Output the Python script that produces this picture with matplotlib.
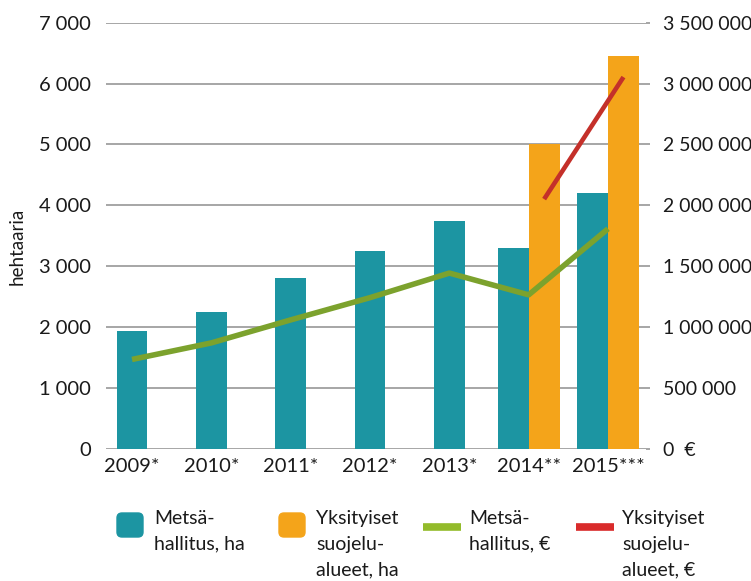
import numpy as np
import matplotlib
matplotlib.use("Agg")
import matplotlib.pyplot as plt
from matplotlib.patches import FancyBboxPatch
from matplotlib.lines import Line2D
from matplotlib.ticker import FuncFormatter, MultipleLocator

plt.rcParams['font.family'] = ['Lato', 'DejaVu Sans']

# data
years = ["2009*", "2010*", "2011*", "2012*", "2013*", "2014**", "2015***"]
metsahallitus_ha = [1930, 2245, 2805, 3250, 3745, 3300, 4200]
yksityiset_ha = [np.nan, np.nan, np.nan, np.nan, np.nan, 5010, 6450]
metsahallitus_eur = [732000, 868000, 1057000, 1240000, 1442000, 1263000, 1806000]
yksityiset_eur = [np.nan, np.nan, np.nan, np.nan, np.nan, 2050000, 3053000]

legend_labels = ["Metsä-\nhallitus, ha", "Yksityiset\nsuojelu-\nalueet, ha",
                 "Metsä-\nhallitus, €", "Yksityiset\nsuojelu-\nalueet, €"]

teal = "#1c95a2"
orange = "#f4a41a"
green = "#7ca22d"
red = "#c4302a"
grid_col = "#8e8e8e"
text_col = "#1a1a1a"

W, H = 751, 581
fig = plt.figure(figsize=(W / 100, H / 100), dpi=100)
ax = fig.add_axes([106 / W, 1 - 448.5 / H, 540 / W, 425.8 / H])

x = np.arange(len(years))
bw = 0.39
has_second = ~np.isnan(np.array(yksityiset_ha))
teal_x = np.where(has_second, x - bw / 2, x)

ax.bar(teal_x, metsahallitus_ha, width=bw, color=teal, zorder=2)
ax.bar(x[has_second] + bw / 2, np.array(yksityiset_ha)[has_second], width=bw,
       color=orange, zorder=2)

ax.set_xlim(-0.328, 6.479)
ax.set_ylim(0, 7000)
ax.yaxis.set_major_locator(MultipleLocator(1000))
ax.yaxis.set_major_formatter(FuncFormatter(lambda v, p: f"{v:,.0f}".replace(",", "\u202f")))
ax.set_axisbelow(True)
ax.yaxis.grid(True, color=grid_col, linewidth=1.1)
for s in ax.spines.values():
    s.set_visible(False)
ax.tick_params(axis='y', length=0, pad=11, labelsize=14.5, labelcolor=text_col)
ax.set_xticks(x)
ax.set_xticklabels(years)
ax.tick_params(axis='x', length=0, pad=7, labelsize=14.5, labelcolor=text_col)

ax2 = ax.twinx()
ax2.plot(x, metsahallitus_eur, color=green, linewidth=4, solid_capstyle='butt', zorder=3)
ax2.plot(x + bw / 2, yksityiset_eur, color=red, linewidth=3.3, solid_capstyle='butt', zorder=3)
ax2.set_ylim(0, 3500000)
ax2.yaxis.set_major_locator(MultipleLocator(500000))
ax2.yaxis.set_major_formatter(FuncFormatter(
    lambda v, p: "0  €" if v == 0 else f"{v:,.0f}".replace(",", "\u202f")))
for s in ax2.spines.values():
    s.set_visible(False)
ax2.tick_params(axis='y', length=3, width=1.1, color=grid_col, pad=9,
                labelsize=14, labelcolor=text_col)

fig.text(17 / W, 1 - 246 / H, "hehtaaria", rotation=90, ha='center', va='center',
         fontsize=13.5, color=text_col)

# legend, drawn by hand so the marks sit beside the first text line
leg_x = [117, 279, 423, 576]
for i, lab in enumerate(legend_labels):
    x0 = leg_x[i]
    if i < 2:
        col = [teal, orange][i]
        fig.add_artist(FancyBboxPatch(((x0 + 2) / 100, (H - 535) / 100), 0.22, 0.20,
                                      boxstyle="round,pad=0.02,rounding_size=0.05",
                                      transform=fig.dpi_scale_trans, color=col))
        tx = x0 + 37
    else:
        col = ["#93bb2b", "#d92b2b"][i - 2]
        fig.add_artist(Line2D([x0 / 100, (x0 + 38) / 100], [(H - 527) / 100] * 2,
                              transform=fig.dpi_scale_trans, color=col, linewidth=5.5,
                              solid_capstyle='butt'))
        tx = x0 + 46
    fig.text(tx / W, 1 - 510 / H, lab, ha='left', va='top', fontsize=14,
             color=text_col, linespacing=1.62)

fig.savefig("out.png", dpi=100)
